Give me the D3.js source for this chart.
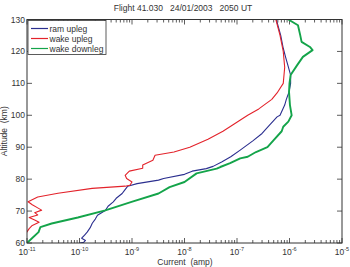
<!DOCTYPE html>
<html>
<head>
<meta charset="utf-8">
<script src="https://cdn.jsdelivr.net/npm/d3@7"></script>
<style>
  body { margin: 0; background: #fff; }
  text { font-family: "Liberation Sans", Arial, sans-serif; fill: #333; }
</style>
</head>
<body>
<div id="chart"></div>
<script>

// altitude (km) and current (amp)
var ramAlt = [130, 125, 121, 118, 115.7, 112.6, 110, 107.3, 105, 103.2, 100, 99.5, 97, 94.3, 92, 89.1, 87, 85.4, 84, 83.3, 82.5, 81.5, 80.2, 79.7, 78.6, 77.8, 76.5, 75.5, 74, 72.9, 71.5, 70.2, 68.7, 67.5, 66.2, 64.8, 63.4, 62.5, 61.5, 60.8, 60.2, 60];
var ramCur = [5.6e-7, 6.8e-7, 7.6e-7, 8.5e-7, 9.3e-7, 1.05e-6, 1.05e-6, 9.8e-7, 8.7e-7, 8.1e-7, 6.6e-7, 5.8e-7, 4.2e-7, 3.0e-7, 2.0e-7, 1.15e-7, 7.6e-8, 5.1e-8, 3.5e-8, 2.6e-8, 1.4e-8, 1.0e-8, 4.0e-9, 3.2e-9, 1.25e-9, 8.3e-10, 7.2e-10, 6.5e-10, 5.0e-10, 4.4e-10, 3.5e-10, 3.1e-10, 2.2e-10, 2.0e-10, 1.75e-10, 1.6e-10, 1.4e-10, 1.25e-10, 1.1e-10, 1.3e-10, 1.2e-10, 1.0e-10];

var wakeUpAlt = [130, 125, 120, 115, 110, 107, 105, 102, 100, 97.5, 95, 92.5, 90, 88.5, 87.5, 85.9, 84.4, 83.4, 82.5, 81.2, 80.2, 79.1, 78.1, 77.8, 77.1, 75.6, 74.4, 72.9, 72, 71, 70.3, 69.5, 68.8, 68, 67.2, 66.5, 65.5, 64.5, 63.5, 62.5];
var wakeUpCur = [5.5e-7, 6.6e-7, 7.6e-7, 8.1e-7, 7.6e-7, 5.8e-7, 4.6e-7, 2.6e-7, 1.6e-7, 9.3e-8, 5.4e-8, 2.8e-8, 1.26e-8, 6.3e-9, 2.75e-9, 2.5e-9, 1.6e-9, 1.6e-9, 8.9e-10, 7.4e-10, 7.9e-10, 1.0e-9, 9.1e-10, 7.4e-10, 1.74e-10, 3.9e-11, 1.6e-11, 1.05e-11, 1.26e-11, 1.6e-11, 1.9e-11, 1.4e-11, 1.6e-11, 1.1e-11, 1.4e-11, 1.7e-11, 1.26e-11, 1.1e-11, 1.0e-11, 0.9e-11];

var wakeDownAlt = [130, 128.2, 125.1, 123, 121.4, 120.4, 118.3, 115.7, 112.6, 110, 107.3, 103.2, 100, 98, 96.4, 95, 92.2, 90, 88.5, 87, 86.5, 85, 83.8, 83.3, 81.8, 79.1, 77.5, 75.5, 72.9, 70.2, 68, 66.1, 65, 63.4, 61.4, 60];
var wakeDownCur = [9.5e-7, 1.45e-6, 1.6e-6, 1.7e-6, 2.45e-6, 2.75e-6, 1.8e-6, 1.4e-6, 1.05e-6, 1.0e-6, 9.8e-7, 1.02e-6, 1.1e-6, 9.5e-7, 7.6e-7, 7.1e-7, 5.0e-7, 3.8e-7, 2.3e-7, 1.6e-7, 1.15e-7, 7.4e-8, 4.8e-8, 4.1e-8, 1.7e-8, 1.0e-8, 5.2e-9, 3.2e-9, 9.8e-10, 3.1e-10, 9.3e-11, 2.95e-11, 1.8e-11, 1.66e-11, 1.23e-11, 1.0e-11];

var seriesNames = ["ram upleg", "wake upleg", "wake downleg"];
var seriesColors = ["#2b2f8f", "#e3232b", "#14a44a"];
var altTicks = [60, 70, 80, 90, 100, 110, 120, 130];
var decadeTicks = [1e-11, 1e-10, 1e-9, 1e-8, 1e-7, 1e-6, 1e-5];

var width = 350, height = 267;
var padL = 27, padR = 342, padT = 19.5, padB = 243;
var fs = 8.5;

var x = d3.scaleLog().domain([1e-11, 1e-5]).range([padL, padR]);
var y = d3.scaleLinear().domain([60, 130]).range([padB, padT]);

var svg = d3.select("#chart").append("svg")
  .attr("width", width).attr("height", height);

svg.append("defs").append("clipPath").attr("id", "plotclip")
  .append("rect").attr("x", padL).attr("y", padT)
  .attr("width", padR - padL).attr("height", padB - padT);

// minor ticks are every 2..9 inside each decade
var minorTicks = x.ticks().filter(function(v) {
  return decadeTicks.indexOf(v) < 0;
});

function drawXTicks(yPos, dir) {
  var g = svg.append("g").attr("stroke", "#333").attr("stroke-width", 0.8);
  g.selectAll(".maj").data(decadeTicks).enter().append("line")
    .attr("x1", function(d) { return x(d); }).attr("x2", function(d) { return x(d); })
    .attr("y1", yPos).attr("y2", yPos + dir * 5);
  g.selectAll(".min").data(minorTicks).enter().append("line")
    .attr("x1", function(d) { return x(d); }).attr("x2", function(d) { return x(d); })
    .attr("y1", yPos).attr("y2", yPos + dir * 3);
}
drawXTicks(padB, -1);
drawXTicks(padT, 1);

function drawYTicks(xPos, dir) {
  svg.append("g").attr("stroke", "#333").attr("stroke-width", 0.8)
    .selectAll("line").data(altTicks).enter().append("line")
    .attr("x1", xPos).attr("x2", xPos + dir * 5)
    .attr("y1", function(d) { return y(d); }).attr("y2", function(d) { return y(d); });
}
drawYTicks(padL, 1);
drawYTicks(padR, -1);

// series lines
var line = d3.line()
  .x(function(d) { return x(d[1]); })
  .y(function(d) { return y(d[0]); });

var series = [
  { alt: ramAlt, cur: ramCur, w: 1.1 },
  { alt: wakeUpAlt, cur: wakeUpCur, w: 1.1 },
  { alt: wakeDownAlt, cur: wakeDownCur, w: 1.9 }
];

var plot = svg.append("g").attr("clip-path", "url(#plotclip)");
series.forEach(function(s, i) {
  var pts = s.alt.map(function(a, j) { return [a, s.cur[j]]; });
  plot.append("path").datum(pts)
    .attr("d", line)
    .attr("fill", "none")
    .attr("stroke", seriesColors[i])
    .attr("stroke-width", s.w)
    .attr("stroke-linejoin", "round");
});

// box
svg.append("rect").attr("x", padL).attr("y", padT)
  .attr("width", padR - padL).attr("height", padB - padT)
  .attr("fill", "none").attr("stroke", "#333").attr("stroke-width", 1);

// x tick labels, 10 with a superscript exponent
var xl = svg.append("g").selectAll("text").data(decadeTicks).enter().append("text")
  .attr("x", function(d) { return x(d); })
  .attr("y", 254.5)
  .attr("text-anchor", "middle")
  .attr("font-size", fs);
xl.append("tspan").text("10");
xl.append("tspan").attr("dy", -4).attr("font-size", 5.5)
  .text(function(d) { return "-" + Math.round(-Math.log10(d)); });

// y tick labels
svg.append("g").selectAll("text").data(altTicks).enter().append("text")
  .attr("x", padL - 2)
  .attr("y", function(d) { return y(d) + 3; })
  .attr("text-anchor", "end")
  .attr("font-size", fs)
  .text(function(d) { return d; });

svg.append("text").attr("x", 183).attr("y", 10.5)
  .attr("text-anchor", "middle").attr("font-size", fs)
  .attr("xml:space", "preserve")
  .text("Flight 41.030   24/01/2003   2050 UT");

svg.append("text").attr("x", 185).attr("y", 264.5)
  .attr("text-anchor", "middle").attr("font-size", fs)
  .attr("xml:space", "preserve")
  .text("Current  (amp)");

svg.append("text")
  .attr("transform", "translate(7," + ((padT + padB) / 2) + ") rotate(-90)")
  .attr("text-anchor", "middle").attr("font-size", fs)
  .attr("xml:space", "preserve")
  .text("Altitude  (km)");

// legend
var leg = svg.append("g");
leg.append("rect").attr("x", padL + 1).attr("y", padT + 1)
  .attr("width", 78).attr("height", 34)
  .attr("fill", "#fff").attr("stroke", "#333").attr("stroke-width", 0.8);
seriesNames.forEach(function(name, i) {
  var ly = 28.5 + i * 10;
  leg.append("line").attr("x1", 31).attr("x2", 48)
    .attr("y1", ly).attr("y2", ly)
    .attr("stroke", seriesColors[i]).attr("stroke-width", 1.2);
  leg.append("text").attr("x", 49.5).attr("y", ly + 3)
    .attr("font-size", fs).text(name);
});

</script>
</body>
</html>
